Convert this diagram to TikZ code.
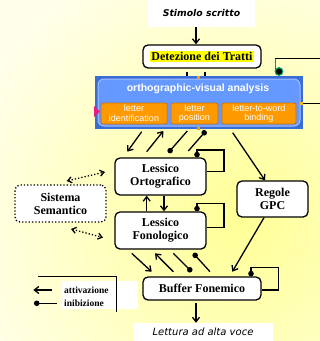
\documentclass[tikz,border=0pt]{standalone}
\usepackage{fontspec}
\setmainfont{Liberation Serif}
\newfontfamily\labelsans{Liberation Sans}
\newfontfamily\handsans{DejaVu Sans}
\usetikzlibrary{arrows.meta}

\definecolor{bgin}{RGB}{255,255,150}
\definecolor{bgout}{RGB}{255,255,236}
\definecolor{hiyellow}{RGB}{255,255,0}
\definecolor{ovaouter}{RGB}{58,108,214}
\definecolor{ovainner}{RGB}{102,153,255}
\definecolor{ovaedge}{RGB}{160,190,255}
\definecolor{orbox}{RGB}{255,153,0}
\definecolor{oredge}{RGB}{205,115,0}
\definecolor{linkgreen}{RGB}{0,150,110}
\definecolor{markpink}{RGB}{230,30,130}

\begin{document}
\begin{tikzpicture}[x=1pt,y=-1pt,
  box/.style={draw=black, line width=1.3pt, fill=white, rounded corners=5pt,
    align=center, inner sep=0pt, font=\fontsize{12}{13}\selectfont\bfseries},
  plain/.style={fill=white, inner sep=0pt},
  hand/.style={font=\handsans\itshape\fontsize{10}{12}\selectfont},
  handbold/.style={font=\handsans\bfseries\itshape\fontsize{9.3}{12}\selectfont},
  orange/.style={fill=orbox, draw=oredge, line width=0.8pt, rounded corners=2pt,
    minimum height=21pt, inner sep=0pt, align=center, text=white,
    font=\labelsans\fontsize{9}{9.5}\selectfont},
  act/.style={line width=1.3pt, -{Straight Barb[length=4.5pt,width=7pt]}},
  inh/.style={line width=1.3pt, -{Circle[length=5.5pt]}},
  sem/.style={line width=1.3pt, dotted, {Straight Barb[length=4pt,width=6pt]}-{Straight Barb[length=4pt,width=6pt]}},
  loopline/.style={line width=1.3pt}
]
\useasboundingbox (0,0) rectangle (320,341);

% soft yellow background
\begin{scope}
  \clip (0,0) rectangle (320,341);
  \shade[inner color=bgin, outer color=bgout] (-50,-70) rectangle (530,510);
\end{scope}

% input and output labels
\node (stim) [plain, minimum width=107pt, minimum height=27pt, handbold] at (201.5,13.5) {Stimolo scritto};
\node (out) [plain, minimum width=140pt, minimum height=18pt, hand] at (203,332) {Lettura ad alta voce};

% feature detection
\node (detect) [box, minimum width=118pt, minimum height=23pt] at (202,56.5)
  {\setlength{\fboxsep}{1pt}\colorbox{hiyellow}{Detezione dei Tratti}};

% short stubs below the detection box
\coordinate (s1a) at (187,71.5); \coordinate (s1b) at (187,77);
\coordinate (s2a) at (205,71.5); \coordinate (s2b) at (205,77);
\draw[line width=1.3pt] (s1a) -- (s1b) (s2a) -- (s2b);

% orthographic-visual analysis panel
\node (ova) [fill=ovaouter, minimum width=208pt, minimum height=53pt, inner sep=0pt] at (199,102.5) {};
\node (ovain) [fill=ovainner, draw=ovaedge, line width=1pt, rounded corners=6pt,
  minimum width=202pt, minimum height=47pt, inner sep=0pt] at (199,102.5) {};
\node (ovatitle) [text=white, font=\labelsans\bfseries\fontsize{10.5}{12}\selectfont] at (198,89)
  {orthographic-visual analysis};
\node (oid) [orange, minimum width=66pt] at (134,113.5) {letter\\identification};
\node (opos) [orange, minimum width=47pt] at (194.5,113.5) {letter\\position};
\node (obind) [orange, minimum width=74pt] at (259,113.5) {letter-to-word\\binding};
\fill[orbox] (197,76) rectangle (199.5,78.5);
\fill[orbox] (197,127) rectangle (199.5,129.5);
\fill[markpink] (94,106) -- (100,111.5) -- (94,117) -- cycle;
\fill[orbox!70!yellow] (300,101.5) rectangle (303,104.5);

% lines leaving to the right edge
\coordinate (r1a) at (303,103); \coordinate (r1b) at (320,103);
\draw[line width=0.9pt] (r1a) -- (r1b);
\coordinate (g1) at (275,71); \coordinate (g2) at (275,58); \coordinate (g3) at (320,58);
\draw[linkgreen, line width=1pt] (g1) -- (g2);
\draw[line width=0.9pt] (g2) -- (g3);
\node (gdot) [circle, fill=black, draw=linkgreen, line width=1.2pt, minimum size=7.5pt, inner sep=0pt] at (279,71.5) {};

% lexicons, semantics, rules, buffer
\node (lorto) [box, minimum width=91pt, minimum height=37pt] at (160.5,176.5) {Lessico\\Ortografico};
\node (lfono) [box, minimum width=91pt, minimum height=37pt] at (160.5,230.5) {Lessico\\Fonologico};
\node (gpc) [box, minimum width=71pt, minimum height=36pt] at (272.5,199) {Regole\\GPC};
\node (semsys) [box, dotted, minimum width=91pt, minimum height=37pt] at (60.5,203.5) {Sistema\\Semantico};
\node (buffer) [box, minimum width=118pt, minimum height=23pt] at (202,288.5) {Buffer Fonemico};

% input arrows
\draw[act] (stim.south -| 196,0) -- (detect.north -| 196,0);
\draw[act] (buffer.south -| 196,0) ++(0,2.5) -- (out.north -| 196,0);

% panel <-> orthographic lexicon
\coordinate (a1s) at (141.7,131.7); \coordinate (a1e) at (127.3,151.7);
\coordinate (a2s) at (146.7,151.7); \coordinate (a2e) at (163.3,131);
\coordinate (i1s) at (187.3,131);   \coordinate (i1e) at (168.3,152.7);
\coordinate (i2s) at (188.3,151);   \coordinate (i2e) at (206,130.7);
\draw[act] (a1s) -- (a1e);
\draw[act] (a2s) -- (a2e);
\draw[inh] (i1s) -- (i1e);
\draw[inh] (i2s) -- (i2e);

% panel -> GPC -> buffer
\coordinate (p1) at (232.7,132.7);
\draw[act] (p1) -- (gpc.north -| 265,0);
\draw[act] (gpc.south -| 264,0) -- (232.3,271.7) coordinate (gpcend);

% self-inhibition loops
\draw[loopline] (lorto.east |- 0,171.7) -- (224,171.7) -- (224,150) -- (197,150);
\draw[inh] (197,149.35) -- (lorto.north -| 197,0);
\draw[loopline] (lfono.east |- 0,227.3) -- (224,227.3) -- (224,203.3) -- (197,203.3);
\draw[inh] (197,202.65) -- (lfono.north -| 197,0);
\draw[loopline] (buffer.east |- 0,290) -- (278.3,290) -- (278.3,267.3) -- (251,267.3);
\draw[inh] (251,266.65) -- (buffer.north -| 251,0);

% between the two lexicons
\draw[act] (lfono.north -| 146.7,0) -- (lorto.south -| 146.7,0);
\draw[act] (lorto.south -| 164,0) -- (lfono.north -| 164,0);

% semantic system links
\coordinate (se1) at (66.7,181); \coordinate (se2) at (105,172);
\coordinate (se3) at (71,229);   \coordinate (se4) at (103,237.5);
\draw[sem] (se1) -- (se2);
\draw[sem] (se3) -- (se4);

% phonological lexicon <-> buffer
\coordinate (b1s) at (131.7,253.3); \coordinate (b1e) at (151.7,271.7);
\coordinate (b2s) at (173.3,271.7); \coordinate (b2e) at (155,253.3);
\coordinate (b3s) at (173.3,253.3); \coordinate (b3e) at (191.7,271.7);
\coordinate (b4s) at (210,271.7);   \coordinate (b4e) at (193.3,253.3);
\draw[act] (b1s) -- (b1e);
\draw[act] (b2s) -- (b2e);
\draw[inh] (b3s) -- (b3e);
\draw[inh] (b4s) -- (b4e);

% legend
\node (legend) [plain, minimum width=76pt, minimum height=28pt] at (100,295) {};
\draw[line width=1.3pt] (38.3,276.7) -- (116.7,276.7) -- (116.7,311.7);
\coordinate (la) at (51.7,290); \coordinate (lb) at (33.3,290);
\draw[act] (la) -- (lb);
\coordinate (lc) at (56.7,303.3); \coordinate (ld) at (34,303.3);
\draw[inh] (lc) -- (ld);
\node (lact) [anchor=west, inner sep=0pt, font=\fontsize{9.5}{11}\selectfont\bfseries] at (64,290) {attivazione};
\node (linh) [anchor=west, inner sep=0pt, font=\fontsize{9.5}{11}\selectfont\bfseries] at (64,303.3) {inibizione};
\end{tikzpicture}
\end{document}
